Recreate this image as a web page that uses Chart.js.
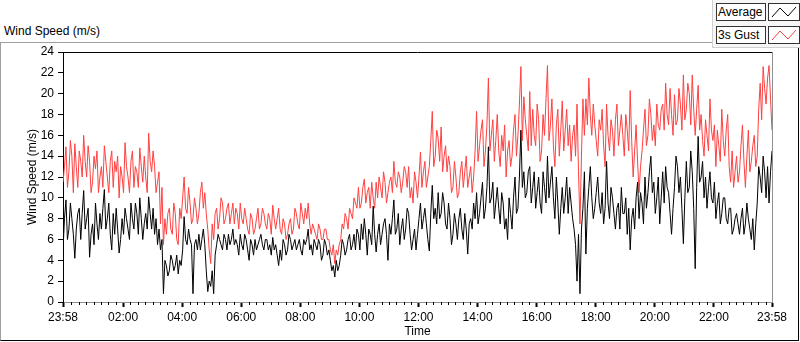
<!DOCTYPE html>
<html>
<head>
<meta charset="utf-8">
<script src="https://cdn.jsdelivr.net/npm/chart.js@4.4.1/dist/chart.umd.min.js"></script>
<style>
  body { margin: 0; background: #fff; font-family: "Liberation Sans", Arial, sans-serif; }
  #wrap { position: relative; width: 800px; height: 342px; overflow: hidden; }
  #frame { position: absolute; left: 0; top: 42px; width: 797px; height: 297px;
           border-top: 1px solid #a0a0a0; border-left: 1px solid #a0a0a0;
           border-right: 1px solid #000; border-bottom: 1px solid #000; }
  #title { position: absolute; left: 4px; top: 24px; font-size: 12px; color: #000; }
  #legend { position: absolute; left: 712px; top: 0; width: 88px; height: 47px;
            background: #f6f6f6; border-left: 1px solid #d0d0d0; border-bottom: 1px solid #d0d0d0; }
  .lbl { position: absolute; left: 3px; width: 47px; height: 16px; border: 1px solid #333;
         background: #fff; font-size: 12px; line-height: 16px; padding-left: 1px; box-sizing: content-box; }
  .ico { position: absolute; left: 55px; width: 30px; height: 16px; border: 1px solid #333; background: #fff; }
  canvas { position: absolute; left: 0; top: 0; }
</style>
</head>
<body>
<div id="wrap">
  <div id="frame"></div>
  <div id="title">Wind Speed (m/s)</div>
  <div id="legend">
    <div class="lbl" style="top:3px">Average</div>
    <div class="ico" style="top:3px"><svg width="30" height="16"><polyline points="3,13 11,4 19,12 27,3" fill="none" stroke="#000" stroke-width="1"/></svg></div>
    <div class="lbl" style="top:26px">3s Gust</div>
    <div class="ico" style="top:26px"><svg width="30" height="16"><polyline points="3,13 11,4 19,12 27,3" fill="none" stroke="#ff4040" stroke-width="1"/></svg></div>
  </div>
  <canvas id="grafica" width="800" height="342"></canvas>
</div>
<script>
// samples every 3 minutes, in hours since 23:58 (one row = one hour)
const sampleStep = 0.05;

const gustSpeed = [
  11.5,13.0,14.9,11.0,12.5,15.5,14.0,10.5,15.2,13.0,11.0,14.5,13.5,12.0,16.0,13.5,12.0,15.0,13.5,10.5,
  11.5,14.0,12.8,14.5,10.5,12.0,13.0,11.0,15.0,13.5,12.0,10.5,13.5,14.5,11.0,13.5,12.5,14.0,10.0,13.0,
  12.0,10.5,15.3,13.0,12.0,10.5,13.5,14.5,11.0,13.0,12.5,11.0,14.8,13.0,11.5,14.0,12.0,10.5,16.2,13.5,
  12.5,14.5,13.0,10.5,11.5,12.5,7.5,11.0,5.5,8.0,6.5,8.5,9.0,7.0,6.5,9.5,8.5,6.0,5.5,9.0,
  8.0,10.0,12.0,9.0,8.5,11.0,9.5,7.5,8.0,10.0,9.0,7.5,8.5,10.5,11.5,9.0,10.5,8.5,7.0,5.0,
  3.7,7.5,6.0,8.5,9.0,7.0,8.0,10.0,9.5,7.5,8.0,9.0,9.5,7.5,8.5,9.5,7.5,9.0,8.5,7.0,
  9.5,8.0,7.5,9.0,8.0,7.0,6.5,8.5,8.0,6.5,7.0,8.0,9.0,7.0,7.5,9.0,8.5,7.5,7.0,8.5,
  8.0,6.5,9.3,8.0,7.0,8.0,9.0,7.0,6.5,8.0,7.5,6.0,6.5,7.5,8.0,6.5,7.0,9.0,8.5,7.5,
  7.0,9.5,8.5,7.5,9.0,8.0,9.5,7.5,6.5,7.5,7.0,6.5,6.0,7.5,7.0,6.0,6.0,7.0,7.0,6.0,
  6.0,5.0,4.5,5.5,3.7,5.0,4.5,5.5,6.0,7.5,7.0,8.5,8.0,7.0,9.0,8.5,8.0,10.0,9.5,9.0,
  11.0,9.0,9.5,11.0,11.8,9.5,10.5,11.0,9.0,11.5,10.0,9.0,11.5,10.0,12.0,11.0,10.0,12.5,11.5,9.5,
  10.5,11.5,12.0,10.5,13.5,11.5,11.0,12.5,12.0,10.5,11.5,13.0,12.5,11.0,13.0,10.0,11.0,9.5,12.5,11.5,
  10.0,12.0,14.4,11.0,12.5,13.5,11.0,12.0,13.0,15.5,18.3,13.0,14.0,16.5,15.7,13.5,16.8,12.5,14.0,15.0,
  12.5,14.0,13.0,10.5,11.0,13.5,12.0,10.0,10.5,12.5,13.5,11.0,12.5,14.0,11.0,12.0,13.0,10.5,12.0,14.5,
  18.3,13.5,15.0,16.5,17.5,13.0,14.5,17.0,21.5,14.5,16.0,17.5,13.5,15.5,18.0,14.5,13.0,16.0,14.5,17.0,
  12.0,14.5,15.5,13.0,14.0,16.5,18.0,14.0,16.0,19.0,22.6,15.5,19.7,17.5,16.0,14.5,20.2,15.0,18.5,16.0,
  15.0,19.0,17.5,13.5,14.5,18.0,16.0,19.5,22.7,15.5,17.0,19.5,15.0,13.0,17.0,18.5,14.0,16.5,19.3,14.5,
  16.5,18.5,15.0,17.0,13.5,16.0,17.0,14.0,19.0,12.5,7.5,14.0,19.5,16.0,19.5,17.0,21.5,18.0,16.0,19.0,
  17.0,15.5,14.0,17.5,16.5,18.5,15.0,13.0,19.0,16.0,14.5,17.5,16.5,14.0,17.5,19.0,15.0,16.5,18.0,16.0,
  14.0,18.0,16.5,14.5,20.3,15.5,12.0,14.5,17.0,13.5,10.5,13.0,14.5,16.5,18.5,15.0,16.0,19.5,18.0,15.5,
  17.0,15.0,19.0,17.0,16.5,18.5,19.0,16.5,21.0,18.0,17.0,20.5,18.0,16.0,19.9,17.0,17.5,20.5,19.0,16.5,
  21.8,17.5,18.5,21.0,20.0,17.0,21.8,18.5,16.0,18.5,20.8,16.5,18.0,15.5,14.0,17.5,16.0,14.5,19.5,16.5,
  15.5,17.0,13.0,16.5,15.0,13.5,18.5,15.5,14.0,16.5,18.0,13.0,11.5,14.5,11.0,12.5,14.0,11.5,12.5,15.0,
  17.0,13.5,11.0,14.0,16.5,12.5,13.5,15.0,16.0,13.0,14.0,18.5,21.0,17.5,22.6,20.5,19.0,21.5,22.7,19.5,
  16.5
];

const avgSpeed = [
  5.0,8.0,9.8,6.0,7.0,9.5,8.0,6.5,4.2,7.0,8.5,9.0,6.0,8.5,10.7,7.0,8.0,9.0,4.3,6.5,
  7.5,5.5,9.5,7.5,6.0,8.5,7.0,9.0,10.8,7.0,8.0,9.5,6.5,5.0,8.5,6.5,9.0,7.0,4.7,6.0,
  8.0,6.5,9.0,8.0,7.0,6.0,9.5,8.0,7.0,9.5,8.5,6.5,10.0,8.0,6.0,7.5,8.5,7.0,10.1,8.5,
  7.0,9.0,6.5,8.0,5.5,7.0,5.0,6.0,0.8,4.0,3.5,2.5,3.0,4.5,4.0,3.0,3.5,4.5,2.7,4.0,
  3.5,5.0,8.2,6.0,5.5,7.0,6.0,5.5,0.8,5.5,6.0,5.0,6.5,5.0,6.0,7.0,5.5,3.0,1.0,2.0,
  1.5,3.0,0.8,4.5,5.5,6.5,6.0,5.5,5.0,6.5,6.0,5.0,6.5,5.5,6.0,7.0,5.5,6.0,5.5,4.5,
  6.5,5.5,5.0,6.5,6.0,5.0,4.0,6.0,5.5,4.5,6.0,5.0,5.5,6.0,6.5,5.5,5.0,6.0,6.0,5.0,
  5.5,4.5,6.2,5.0,5.5,4.5,3.5,5.0,4.0,6.0,5.5,4.5,5.0,6.5,6.0,5.0,5.5,6.0,5.0,5.5,
  6.0,5.0,4.5,6.0,5.5,6.0,7.0,5.0,5.5,4.5,6.0,5.5,5.0,6.0,5.5,4.0,4.5,6.0,5.5,4.5,
  5.0,4.0,3.0,3.5,2.4,4.0,3.0,3.5,4.5,6.0,5.5,4.5,5.0,6.0,6.5,5.0,5.5,6.5,5.0,7.0,
  6.5,5.0,7.5,6.0,8.0,6.5,4.5,7.0,6.5,5.5,9.2,6.5,4.8,6.5,7.5,5.5,6.5,7.5,8.0,6.5,
  4.0,7.5,6.5,8.0,9.8,6.5,7.0,8.5,5.5,7.0,8.0,6.0,7.0,9.0,8.5,6.5,5.0,6.0,7.0,5.0,
  6.5,8.0,9.5,7.0,8.0,9.0,7.5,6.0,4.9,8.5,11.2,8.0,9.0,7.5,10.5,8.0,8.5,10.5,9.5,7.5,
  7.0,9.5,8.0,5.5,6.5,8.5,7.5,6.0,8.0,9.0,7.0,6.0,8.5,7.0,4.6,7.5,8.0,7.0,9.5,8.0,
  10.5,7.5,8.5,10.0,11.5,8.0,9.0,11.0,14.9,9.5,10.0,11.5,8.0,9.5,11.0,9.0,7.5,10.5,9.5,7.0,
  8.0,6.0,10.0,8.5,7.0,10.0,12.0,8.5,9.0,12.0,16.5,11.0,12.5,10.0,10.5,12.5,13.0,9.5,11.0,12.5,
  9.0,10.5,12.0,9.5,8.5,12.5,11.0,9.5,14.0,10.0,11.5,13.0,10.0,8.0,12.0,9.5,6.5,9.0,11.0,8.5,
  10.0,12.0,8.5,11.0,9.5,8.0,7.0,5.5,2.0,6.5,0.8,7.0,9.0,12.5,4.6,9.0,11.0,13.0,10.0,8.0,
  9.0,10.5,12.0,9.5,8.5,10.5,7.5,9.0,13.5,9.5,8.0,11.0,10.0,8.5,7.0,9.0,9.5,7.0,11.0,8.5,
  8.5,10.0,6.5,9.0,5.0,8.0,9.0,7.0,10.0,11.5,8.0,10.5,9.5,7.5,12.0,9.0,10.5,12.5,14.0,10.5,
  11.5,8.5,10.0,12.0,7.5,10.0,12.5,9.5,13.0,11.0,10.5,8.5,6.5,9.0,11.0,14.0,13.0,10.5,12.0,9.0,
  5.6,10.0,13.5,10.5,11.0,14.5,12.5,9.0,3.2,11.0,15.9,11.5,12.0,13.5,10.0,12.0,9.0,11.0,12.5,10.0,
  9.5,11.5,8.0,9.5,10.5,7.5,8.5,10.0,10.0,8.0,7.5,9.0,9.0,6.5,7.0,8.0,8.5,7.5,6.5,8.0,
  9.0,6.5,7.5,9.5,8.0,7.0,6.0,8.0,5.0,7.5,9.5,13.0,12.0,10.5,14.0,12.5,10.0,13.0,9.5,12.5,
  14.5
];

const tickHours = [0, 2.033, 4.033, 6.033, 8.033, 10.033, 12.033, 14.033, 16.033, 18.033, 20.033, 22.033, 24];
const tickLabels = ["23:58", "02:00", "04:00", "06:00", "08:00", "10:00", "12:00", "14:00", "16:00", "18:00", "20:00", "22:00", "23:58"];

let avgPts = avgSpeed.map((v, i) => ({ x: i * sampleStep, y: v }));
let gustPts = gustSpeed.map((v, i) => ({ x: i * sampleStep, y: v }));

// minor ticks every 15 min + top/right border of the plot
const extras = {
  id: "extras",
  afterDraw(chart) {
    let ctx = chart.ctx;
    let a = chart.chartArea;
    let xs = chart.scales.x;
    ctx.save();
    ctx.strokeStyle = "#000";
    ctx.lineWidth = 1;
    for (let k = 1; k < 96; k++) {
      if (k % 8 === 0) continue;
      let px = Math.round(xs.getPixelForValue(0.0333 + k * 0.25)) + 0.5;
      ctx.beginPath();
      ctx.moveTo(px, a.bottom);
      ctx.lineTo(px, a.bottom + 3);
      ctx.stroke();
    }
    ctx.beginPath();
    ctx.moveTo(a.left, a.top + 0.5);
    ctx.lineTo(a.right, a.top + 0.5);
    ctx.stroke();
    ctx.strokeStyle = "#909090";
    ctx.beginPath();
    ctx.moveTo(a.right + 0.5, a.top);
    ctx.lineTo(a.right + 0.5, a.bottom);
    ctx.stroke();
    ctx.restore();
  }
};

new Chart(document.getElementById("grafica").getContext("2d"), {
  type: "line",
  data: {
    datasets: [
      { label: "Average", data: avgPts, borderColor: "#000", borderWidth: 1, pointRadius: 0, tension: 0 },
      { label: "3s Gust", data: gustPts, borderColor: "#ff4040", borderWidth: 1, pointRadius: 0, tension: 0 }
    ]
  },
  options: {
    responsive: false,
    animation: false,
    layout: { padding: { top: 52, right: 28, left: 0, bottom: 0 } },
    plugins: { legend: { display: false }, tooltip: { enabled: false } },
    scales: {
      x: {
        type: "linear", min: 0, max: 24,
        afterBuildTicks: s => { s.ticks = tickHours.map(v => ({ value: v })); },
        afterFit: s => { s.height = 40; },
        grid: { drawOnChartArea: false, tickLength: 5, tickWidth: 2, tickColor: "#000" },
        border: { color: "#909090" },
        ticks: {
          autoSkip: false, maxRotation: 0, padding: 3, color: "#000",
          font: { family: "Liberation Sans", size: 12 },
          callback: (v, i) => tickLabels[i]
        },
        title: { display: true, text: "Time", color: "#000", font: { family: "Liberation Sans", size: 12 }, padding: { top: 0, bottom: 3 } }
      },
      y: {
        min: 0, max: 24,
        afterFit: s => { s.width = 63; },
        grid: { drawOnChartArea: false, tickLength: 5, tickColor: "#000" },
        border: { color: "#000" },
        ticks: { stepSize: 2, padding: 4, color: "#000", font: { family: "Liberation Sans", size: 12 } },
        title: { display: true, text: "Wind Speed (m/s)", color: "#000", font: { family: "Liberation Sans", size: 12 }, padding: { top: 25, bottom: 0 } }
      }
    }
  },
  plugins: [extras]
});
</script>
</body>
</html>
